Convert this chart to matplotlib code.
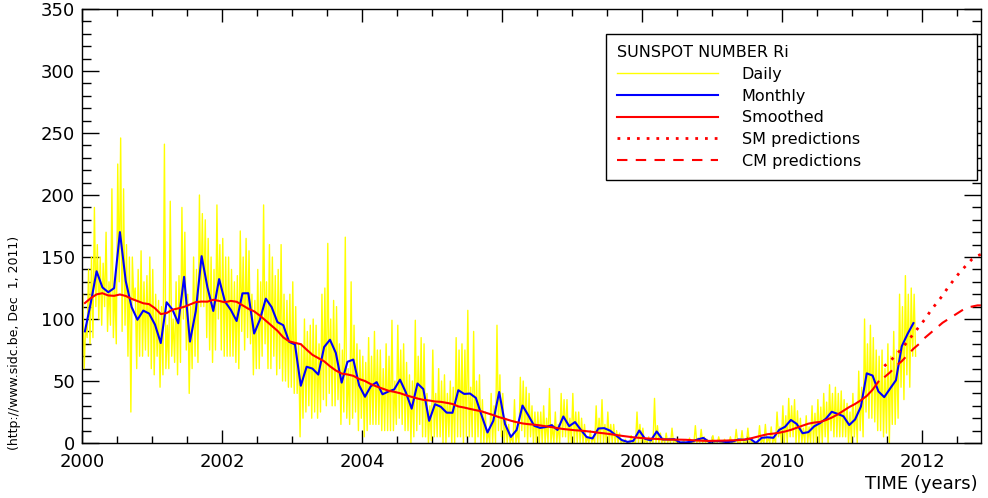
import matplotlib.pyplot as plt
import numpy as np

# Monthly sunspot number, Jan 2000 - Nov 2011
monthly = [90.1, 112.9, 138.5, 125.5, 121.6, 124.9, 170.1, 130.5, 109.7, 99.4, 106.8, 104.4,
           95.6, 80.6, 113.5, 107.7, 96.6, 134.0, 81.8, 106.4, 150.7, 125.5, 106.5, 132.2,
           114.1, 107.4, 98.4, 120.7, 120.8, 88.3, 99.6, 116.4, 109.6, 97.5, 95.0, 81.6,
           79.5, 46.2, 61.5, 60.0, 55.2, 77.4, 83.3, 72.7, 48.7, 65.5, 67.3, 46.5,
           37.3, 45.8, 49.1, 39.3, 41.5, 43.2, 51.1, 40.9, 27.7, 48.0, 43.5, 17.9,
           31.3, 29.2, 24.5, 24.4, 42.6, 39.6, 39.9, 36.4, 22.1, 8.5, 18.0, 41.2,
           15.3, 4.9, 10.6, 30.2, 22.3, 13.9, 12.2, 12.9, 14.4, 10.5, 21.4, 13.6,
           16.9, 10.6, 4.8, 3.7, 11.7, 12.0, 10.0, 6.2, 2.4, 0.9, 1.7, 10.1,
           3.4, 2.1, 9.3, 2.9, 2.9, 3.1, 0.5, 0.5, 1.1, 2.9, 4.1, 0.8,
           1.5, 1.4, 0.7, 1.2, 2.9, 2.6, 3.5, 0.0, 4.2, 4.6, 4.2, 10.6,
           13.1, 18.6, 15.4, 7.9, 8.8, 13.5, 16.1, 19.6, 25.2, 23.5, 21.6, 14.5,
           19.0, 29.4, 56.2, 54.4, 41.6, 37.0, 43.9, 50.6, 78.0, 88.0, 96.7]

# 13-month smoothed, Jan 2000 - May 2011
smoothed = [112.9, 116.8, 119.9, 120.8, 119.0, 118.7, 119.8, 118.6, 116.3, 114.5, 112.7, 112.0,
            108.7, 104.0, 104.8, 107.5, 108.6, 109.8, 111.7, 113.6, 114.1, 114.0, 115.5, 114.6,
            113.5, 114.6, 113.9, 111.1, 108.3, 106.2, 102.7, 98.7, 94.6, 90.5, 85.2, 82.0,
            80.8, 79.7, 75.3, 71.1, 68.5, 65.9, 61.9, 58.5, 56.0, 55.3, 54.2, 51.6,
            50.0, 47.5, 45.6, 43.9, 42.2, 41.3, 40.2, 38.6, 37.2, 35.9, 34.8, 34.3,
            33.5, 33.2, 32.4, 31.5, 29.5, 28.6, 27.5, 26.5, 25.5, 24.0, 22.5, 20.8,
            19.5, 18.0, 16.8, 15.8, 15.2, 14.8, 14.2, 13.5, 12.8, 12.0, 11.3, 10.8,
            10.3, 10.0, 9.5, 9.0, 8.3, 7.8, 7.2, 6.5, 5.8, 5.2, 4.6, 4.2,
            3.8, 3.5, 3.3, 3.0, 2.8, 2.7, 2.7, 2.6, 2.3, 2.0, 1.8, 1.7,
            1.8, 1.9, 2.0, 2.2, 2.3, 2.7, 3.6, 4.8, 6.0, 7.1, 7.6, 8.3,
            9.3, 10.6, 12.3, 14.0, 15.6, 16.5, 17.0, 18.5, 20.5, 23.0, 26.0, 29.0,
            31.5, 34.5, 38.0, 43.0, 49.5]

# predictions Jun 2011 - Nov 2012
sm_pred = [62, 66, 71, 76, 82, 88, 94, 100, 107, 113, 119, 126, 132, 138, 143, 148, 151, 153]
cm_pred = [53, 57, 62, 66, 71, 76, 80, 85, 89, 93, 97, 100, 103, 106, 109, 110, 111, 111]

# daily values, roughly 4 samples per month
daily_2000 = [120, 60, 95, 85, 140, 80, 150, 85, 190, 110, 160, 100, 150, 95, 145, 110,
              170, 90, 130, 95, 205, 85, 130, 80, 225, 130, 246, 90, 205, 95, 160, 70,
              150, 25, 150, 115, 125, 60, 140, 70, 155, 70, 130, 75, 135, 70, 150, 60]
daily_2001 = [140, 55, 120, 70, 115, 45, 110, 55, 241, 60, 95, 60, 195, 70, 100, 65,
              130, 55, 135, 65, 190, 100, 170, 75, 120, 40, 110, 60, 150, 70, 140, 65,
              200, 110, 185, 110, 180, 85, 165, 75, 150, 65, 140, 75, 192, 100, 160, 75]
daily_2002 = [165, 70, 150, 70, 150, 70, 140, 70, 130, 65, 135, 60, 171, 90, 150, 75,
              165, 85, 155, 80, 120, 55, 115, 60, 140, 60, 130, 70, 192, 80, 130, 60,
              160, 60, 150, 70, 135, 55, 140, 60, 160, 50, 120, 50, 115, 45, 120, 45]
daily_2003 = [130, 40, 110, 40, 80, 5, 80, 20, 100, 25, 90, 30, 95, 20, 100, 25,
              95, 20, 80, 25, 120, 35, 125, 30, 161, 40, 100, 30, 115, 30, 110, 35,
              80, 15, 75, 25, 166, 20, 60, 15, 130, 20, 95, 25, 80, 10, 75, 20]
daily_2004 = [70, 5, 65, 10, 85, 15, 70, 15, 90, 15, 75, 15, 75, 10, 60, 10,
              80, 10, 70, 10, 99, 10, 50, 15, 95, 20, 75, 15, 80, 10, 65, 10,
              55, 0, 50, 5, 99, 10, 70, 15, 85, 5, 80, 5, 40, 0, 30, 2]
daily_2005 = [75, 5, 40, 5, 60, 5, 50, 0, 55, 0, 40, 5, 50, 0, 45, 0,
              85, 5, 75, 5, 80, 0, 75, 5, 107, 5, 45, 5, 90, 0, 50, 5,
              55, 0, 35, 0, 25, 0, 10, 0, 40, 0, 30, 0, 95, 10, 55, 5]
daily_2006 = [40, 0, 20, 0, 15, 0, 5, 0, 35, 0, 10, 0, 53, 10, 50, 5,
              45, 0, 40, 5, 30, 0, 25, 0, 25, 0, 25, 0, 30, 0, 20, 0,
              44, 0, 15, 0, 25, 0, 15, 0, 40, 5, 35, 5, 35, 0, 20, 0]
daily_2007 = [40, 0, 25, 0, 25, 0, 20, 0, 15, 0, 5, 0, 10, 0, 5, 0,
              30, 0, 20, 0, 35, 0, 15, 0, 25, 0, 15, 0, 15, 0, 10, 0,
              8, 0, 2, 0, 3, 0, 1, 0, 6, 0, 1, 0, 25, 0, 15, 0]
daily_2008 = [12, 0, 2, 0, 5, 0, 3, 0, 36, 0, 14, 0, 8, 0, 4, 0,
              8, 0, 4, 0, 12, 0, 3, 0, 2, 0, 0, 0, 2, 0, 0, 0,
              4, 0, 0, 0, 14, 0, 4, 0, 11, 0, 5, 0, 3, 0, 0, 0]
daily_2009 = [6, 0, 0, 0, 5, 0, 1, 0, 3, 0, 0, 0, 5, 0, 0, 0,
              11, 0, 1, 0, 10, 0, 1, 0, 12, 0, 2, 0, 0, 0, 0, 0,
              14, 0, 3, 0, 15, 0, 4, 0, 13, 0, 4, 0, 25, 5, 13, 0]
daily_2010 = [30, 0, 22, 0, 36, 5, 30, 5, 35, 0, 26, 0, 20, 0, 12, 0,
              22, 0, 13, 0, 30, 0, 24, 0, 35, 0, 29, 0, 40, 5, 33, 0,
              47, 10, 40, 5, 45, 5, 40, 5, 42, 5, 35, 5, 32, 0, 25, 0]
daily_2011 = [40, 5, 31, 0, 58, 10, 45, 5, 100, 25, 80, 20, 95, 20, 85, 17,
              75, 10, 70, 10, 75, 5, 60, 8, 80, 0, 70, 15, 90, 15, 75, 20,
              120, 45, 110, 35, 135, 55, 120, 45, 125, 70, 120, 70]
daily = (daily_2000 + daily_2001 + daily_2002 + daily_2003 + daily_2004 + daily_2005
         + daily_2006 + daily_2007 + daily_2008 + daily_2009 + daily_2010 + daily_2011)

t_daily = 2000 + (np.arange(len(daily)) + 0.5) / 48
t_month = 2000 + (np.arange(len(monthly)) + 0.5) / 12
t_smooth = 2000 + (np.arange(len(smoothed)) + 0.5) / 12
t_pred = 2000 + (np.arange(len(sm_pred)) + len(smoothed) + 0.5) / 12

fig = plt.figure(figsize=(9.88, 4.98), dpi=100)
ax = fig.add_axes([0.083, 0.1104, 0.9099, 0.8715])

l1, = ax.plot(t_daily, daily, color='#ffff00', lw=1.0, label='Daily')
l2, = ax.plot(t_month, monthly, color='#0000ff', lw=1.5, label='Monthly')
l3, = ax.plot(t_smooth, smoothed, color='#ff0000', lw=1.5, label='Smoothed')
l4, = ax.plot(t_pred, sm_pred, color='#ff0000', lw=2, ls=(0, (1, 2.5)), label='SM predictions')
l5, = ax.plot(t_pred, cm_pred, color='#ff0000', lw=1.5, ls=(0, (5, 4)), label='CM predictions')

ax.set_xlim(2000, 2012.84)
ax.set_ylim(0, 350)
ax.set_xticks(np.arange(2000, 2013, 2))
ax.set_xticks(np.arange(2000, 2013, 0.5), minor=True)
ax.set_yticks(np.arange(0, 351, 50))
ax.set_yticks(np.arange(0, 351, 10), minor=True)
ax.tick_params(which='both', direction='in', top=True, right=True, labelsize=13,
               colors='black')
ax.tick_params(axis='y', which='major', length=12, width=1, pad=5)
ax.tick_params(axis='y', which='minor', length=6.5, width=1)
ax.tick_params(axis='x', which='major', length=9.5, width=1, pad=7)
ax.tick_params(axis='x', which='minor', length=5, width=1)
for s in ax.spines.values():
    s.set_linewidth(1)

leg = ax.legend(handles=[l1, l2, l3, l4, l5], title='SUNSPOT NUMBER Ri',
                loc='upper left', bbox_to_anchor=(0.5829, 0.0, 0.4127, 0.9424),
                mode='expand', alignment='left', borderaxespad=0,
                fancybox=False, edgecolor='black', framealpha=1,
                fontsize=11.5, title_fontsize=11.5, handlelength=6.3,
                handletextpad=1.5, labelspacing=0.42, borderpad=0.7)
leg.get_frame().set_linewidth(1)

fig.text(15 / 988, 1 - 343 / 498, '(http://www.sidc.be, Dec  1, 2011)',
         rotation=90, ha='center', va='center', fontsize=9)
fig.text(978 / 988, 1 - 484 / 498, 'TIME (years)', ha='right', va='center', fontsize=13)

fig.savefig('out.png', dpi=100)
